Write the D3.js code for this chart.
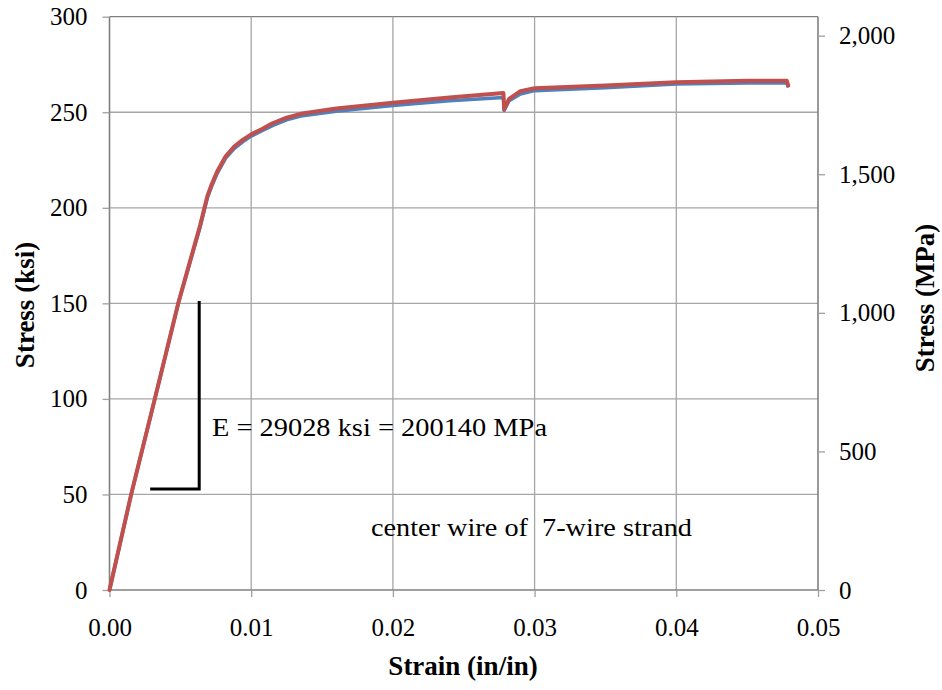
<!DOCTYPE html>
<html><head><meta charset="utf-8">
<script src="https://cdn.jsdelivr.net/npm/d3@7"></script>
<style>body{margin:0;background:#fff;} svg{display:block;}</style>
</head><body>
<svg id="c" width="942" height="690"></svg>
<script>
// Strain (in/in)
const strainBlue = [0, 0.00153, 0.0032, 0.00485, 0.0064, 0.0069, 0.0072, 0.0076, 0.0082, 0.0088, 0.0094, 0.0100, 0.0108, 0.0115, 0.0125, 0.0135, 0.016, 0.020, 0.024, 0.0278, 0.02785, 0.0282, 0.029, 0.030, 0.035, 0.040, 0.045, 0.0478, 0.0479];
// Stress (ksi) - primary axis series
const stressKsi = [0, 50, 100, 150, 190, 205, 211, 218, 226, 231, 234.5, 237.5, 240.5, 243, 246, 248, 250.5, 253.5, 256, 257.7, 251, 256, 259.5, 261.3, 262.8, 264.8, 265.3, 265.3, 263];
const strainRed = [0, 0.00153, 0.0032, 0.00485, 0.0064, 0.0069, 0.0072, 0.0076, 0.0082, 0.0088, 0.0094, 0.0100, 0.0108, 0.0115, 0.0125, 0.0135, 0.016, 0.020, 0.024, 0.0278, 0.02785, 0.0282, 0.029, 0.030, 0.035, 0.040, 0.045, 0.0478, 0.0479];
// Stress (MPa) - secondary axis series
const stressMPa = [0, 345, 690, 1034, 1317, 1420, 1462, 1510, 1565, 1600, 1624, 1644, 1664, 1684, 1704, 1718, 1737, 1758, 1777, 1793, 1734, 1772, 1800, 1810, 1820, 1832, 1837, 1837, 1820];

const xTicks = [0, 0.01, 0.02, 0.03, 0.04, 0.05];
const yTicksKsi = [0, 50, 100, 150, 200, 250, 300];
const yTicksMPa = [0, 500, 1000, 1500, 2000];
const ksiMax = 300, mpaMax = 2068.43;

// slope annotation (strain, ksi)
const slopeX = [0.00287, 0.00633, 0.00633];
const slopeY = [52.8, 52.8, 151.2];
const annoText = "E = 29028 ksi = 200140 MPa";
const noteText = "center wire of  7-wire strand";

const svg = d3.select("#c");
const L = 109.5, R = 818, T = 16.7, B = 590;
const x = d3.scaleLinear().domain([0, 0.05]).range([L, R]);
const y = d3.scaleLinear().domain([0, ksiMax]).range([B, T]);
const y2 = d3.scaleLinear().domain([0, mpaMax]).range([B, T]);
const font = "'Liberation Serif','Times New Roman',serif";

// gridlines
svg.append("g").selectAll("line.h").data(yTicksKsi.slice(1)).join("line")
  .attr("x1", L).attr("x2", R).attr("y1", d => y(d)).attr("y2", d => y(d))
  .attr("stroke", d => d === 300 ? "#7f7f7f" : "#a6a6a6").attr("stroke-width", 1.3);
svg.append("g").selectAll("line.v").data(xTicks.slice(1, -1)).join("line")
  .attr("x1", d => x(d)).attr("x2", d => x(d)).attr("y1", T).attr("y2", B)
  .attr("stroke", "#a6a6a6").attr("stroke-width", 1.3);

// axes
const gx = svg.append("g").attr("transform", `translate(0,${B})`)
  .call(d3.axisBottom(x).tickValues(xTicks).tickFormat(d3.format(".2f")).tickSize(7).tickPadding(21));
const gy = svg.append("g").attr("transform", `translate(${L},0)`)
  .call(d3.axisLeft(y).tickValues(yTicksKsi).tickSize(7).tickPadding(15));
const gy2 = svg.append("g").attr("transform", `translate(${R},0)`)
  .call(d3.axisRight(y2).tickValues(yTicksMPa).tickFormat(d3.format(",")).tickSize(7).tickPadding(14));
[gx, gy, gy2].forEach(g => {
  g.select(".domain").attr("stroke", "#808080").attr("stroke-width", 1.6);
  g.selectAll(".tick line").attr("stroke", "#a0a0a0").attr("stroke-width", 1.3);
  g.selectAll("text").attr("font-family", font).attr("font-size", 25).attr("fill", "#000");
});
gx.select(".domain").attr("d", `M${L},0H${R}`);
gy.select(".domain").attr("d", `M0,${B}V${T}`);
gy2.select(".domain").attr("d", `M0,${B}V${T}`);

// series
const lineBlue = d3.line().x((d, i) => x(strainBlue[i])).y(d => y(d));
const lineRed = d3.line().x((d, i) => x(strainRed[i])).y(d => y2(d));
svg.append("path").datum(stressKsi).attr("d", lineBlue).attr("fill", "none")
  .attr("stroke", "#4F81BD").attr("stroke-width", 3.5).attr("stroke-linejoin", "round");
svg.append("path").datum(stressMPa).attr("d", lineRed).attr("fill", "none")
  .attr("stroke", "#C0504D").attr("stroke-width", 4).attr("stroke-linejoin", "round").attr("stroke-linecap", "round");

// slope annotation
svg.append("path").datum(slopeX.map((d, i) => [d, slopeY[i]]))
  .attr("d", d3.line().x(d => x(d[0])).y(d => y(d[1])))
  .attr("fill", "none").attr("stroke", "#000").attr("stroke-width", 3);
svg.append("text").attr("x", 212).attr("y", 436).attr("font-family", font).attr("font-size", 25)
  .attr("textLength", 335).attr("lengthAdjust", "spacingAndGlyphs").text(annoText);
svg.append("text").attr("x", 371).attr("y", 536).attr("font-family", font).attr("font-size", 25)
  .attr("textLength", 321).attr("lengthAdjust", "spacingAndGlyphs").style("white-space", "pre").text(noteText);

// axis titles
svg.append("text").attr("x", 463).attr("y", 675).attr("text-anchor", "middle")
  .attr("font-family", font).attr("font-weight", "bold").attr("font-size", 27).text("Strain (in/in)");
svg.append("text").attr("transform", "translate(34,305) rotate(-90)").attr("text-anchor", "middle")
  .attr("font-family", font).attr("font-weight", "bold").attr("font-size", 27).text("Stress (ksi)");
svg.append("text").attr("transform", "translate(934,298) rotate(-90)").attr("text-anchor", "middle")
  .attr("font-family", font).attr("font-weight", "bold").attr("font-size", 27).text("Stress (MPa)");
</script>
</body></html>
